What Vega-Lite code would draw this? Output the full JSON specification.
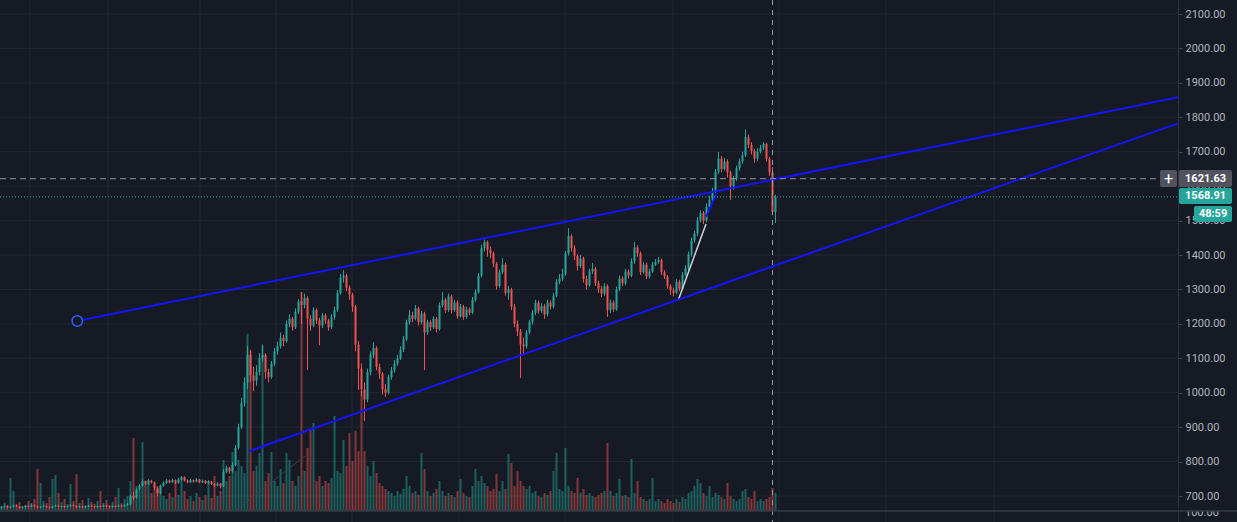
{
"$schema": "https://vega.github.io/schema/vega-lite/v6.json",
"width": 1237, "height": 522,
"autosize": {"type": "none"},
"padding": 0,
"background": "#161a25",
"config": {"view": {"stroke": null}, "text": {"font": "Roboto"}, "scale": {"continuousPadding": 0}},
"datasets": {
"vgrid": [{"t":9.5},{"t":35.5},{"t":66.17},{"t":91.5},{"t":116.83},{"t":152.5},{"t":187.83},{"t":223.83},{"t":259.17},{"t":294.83},{"t":330.83}],
"hgrid": [{"p":700},{"p":800},{"p":900},{"p":1000},{"p":1100},{"p":1200},{"p":1300},{"p":1400},{"p":1500},{"p":1600},{"p":1700},{"p":1800},{"p":1900},{"p":2000},{"p":2100}],
"lines": [{"k":"a","t":25.27,"p":1208.3},{"k":"a","t":392.17,"p":1858},{"k":"b","t":82.6,"p":830.7},{"k":"b","t":392.17,"p":1782.5},{"k":"c","t":78.17,"p":659.3},{"k":"c","t":101.17,"p":816.2},{"k":"d","t":225.6,"p":1269.3},{"k":"d","t":234.83,"p":1490},{"k":"e","t":234.83,"p":1511},{"k":"e","t":238.4,"p":1579}],
"info": [{"cross_t":257,"cross_p":1621.63,"last":1568.91,"timer":"48:59","lower":"100.00"}],
"candles": [
{"t":0,"o":666,"h":671,"l":663,"c":668,"v":10},
{"t":1,"o":668,"h":673,"l":666,"c":670,"v":16},
{"t":2,"o":670,"h":672,"l":664,"c":667,"v":12},
{"t":3,"o":667,"h":672,"l":665,"c":669,"v":66},
{"t":4,"o":669,"h":675,"l":667,"c":672,"v":40},
{"t":5,"o":672,"h":674,"l":668,"c":670,"v":14},
{"t":6,"o":670,"h":671,"l":663,"c":666,"v":18},
{"t":7,"o":666,"h":670,"l":664,"c":668,"v":10},
{"t":8,"o":668,"h":674,"l":666,"c":671,"v":12},
{"t":9,"o":671,"h":673,"l":667,"c":669,"v":20},
{"t":10,"o":669,"h":676,"l":668,"c":673,"v":16},
{"t":11,"o":673,"h":675,"l":668,"c":670,"v":24},
{"t":12,"o":670,"h":672,"l":664,"c":667,"v":84},
{"t":13,"o":667,"h":671,"l":665,"c":669,"v":56},
{"t":14,"o":669,"h":674,"l":667,"c":671,"v":20},
{"t":15,"o":671,"h":672,"l":666,"c":668,"v":16},
{"t":16,"o":668,"h":670,"l":663,"c":666,"v":28},
{"t":17,"o":666,"h":672,"l":664,"c":670,"v":64},
{"t":18,"o":670,"h":675,"l":668,"c":672,"v":72},
{"t":19,"o":672,"h":674,"l":667,"c":669,"v":36},
{"t":20,"o":669,"h":673,"l":667,"c":671,"v":18},
{"t":21,"o":671,"h":672,"l":666,"c":668,"v":24},
{"t":22,"o":668,"h":672,"l":666,"c":670,"v":14},
{"t":23,"o":670,"h":676,"l":669,"c":673,"v":54},
{"t":24,"o":673,"h":675,"l":669,"c":671,"v":20},
{"t":25,"o":671,"h":673,"l":665,"c":668,"v":74},
{"t":26,"o":668,"h":672,"l":666,"c":670,"v":16},
{"t":27,"o":670,"h":671,"l":665,"c":667,"v":22},
{"t":28,"o":667,"h":671,"l":665,"c":669,"v":12},
{"t":29,"o":669,"h":674,"l":668,"c":672,"v":26},
{"t":30,"o":672,"h":674,"l":668,"c":670,"v":18},
{"t":31,"o":670,"h":671,"l":666,"c":668,"v":14},
{"t":32,"o":668,"h":673,"l":666,"c":671,"v":20},
{"t":33,"o":671,"h":673,"l":667,"c":669,"v":40},
{"t":34,"o":669,"h":675,"l":668,"c":672,"v":16},
{"t":35,"o":672,"h":674,"l":668,"c":670,"v":22},
{"t":36,"o":670,"h":671,"l":666,"c":668,"v":12},
{"t":37,"o":668,"h":673,"l":667,"c":671,"v":18},
{"t":38,"o":671,"h":672,"l":667,"c":669,"v":28},
{"t":39,"o":669,"h":675,"l":668,"c":672,"v":46},
{"t":40,"o":672,"h":674,"l":668,"c":670,"v":16},
{"t":41,"o":670,"h":676,"l":669,"c":673,"v":24},
{"t":42,"o":673,"h":680,"l":671,"c":676,"v":30},
{"t":43,"o":676,"h":704,"l":674,"c":700,"v":60},
{"t":44,"o":700,"h":712,"l":688,"c":694,"v":146},
{"t":45,"o":694,"h":722,"l":692,"c":718,"v":50},
{"t":46,"o":718,"h":735,"l":715,"c":730,"v":40},
{"t":47,"o":730,"h":748,"l":727,"c":742,"v":138},
{"t":48,"o":742,"h":745,"l":732,"c":736,"v":60},
{"t":49,"o":736,"h":749,"l":733,"c":744,"v":62},
{"t":50,"o":744,"h":747,"l":736,"c":740,"v":36},
{"t":51,"o":740,"h":742,"l":718,"c":722,"v":44},
{"t":52,"o":722,"h":725,"l":700,"c":708,"v":50},
{"t":53,"o":708,"h":733,"l":705,"c":730,"v":40},
{"t":54,"o":730,"h":742,"l":727,"c":738,"v":30},
{"t":55,"o":738,"h":749,"l":735,"c":745,"v":24},
{"t":56,"o":745,"h":748,"l":737,"c":740,"v":36},
{"t":57,"o":740,"h":750,"l":738,"c":746,"v":28},
{"t":58,"o":746,"h":748,"l":735,"c":738,"v":56},
{"t":59,"o":738,"h":752,"l":736,"c":748,"v":32},
{"t":60,"o":748,"h":758,"l":745,"c":755,"v":64},
{"t":61,"o":755,"h":757,"l":742,"c":745,"v":40},
{"t":62,"o":745,"h":748,"l":737,"c":740,"v":24},
{"t":63,"o":740,"h":750,"l":738,"c":746,"v":30},
{"t":64,"o":746,"h":748,"l":739,"c":742,"v":20},
{"t":65,"o":742,"h":752,"l":740,"c":748,"v":36},
{"t":66,"o":748,"h":750,"l":737,"c":740,"v":28},
{"t":67,"o":740,"h":748,"l":738,"c":744,"v":22},
{"t":68,"o":744,"h":746,"l":735,"c":738,"v":32},
{"t":69,"o":738,"h":746,"l":735,"c":742,"v":60},
{"t":70,"o":742,"h":744,"l":732,"c":735,"v":26},
{"t":71,"o":735,"h":738,"l":726,"c":730,"v":70},
{"t":72,"o":730,"h":740,"l":728,"c":736,"v":30},
{"t":73,"o":736,"h":738,"l":722,"c":728,"v":40},
{"t":74,"o":728,"h":778,"l":726,"c":770,"v":102},
{"t":75,"o":770,"h":788,"l":766,"c":782,"v":60},
{"t":76,"o":782,"h":785,"l":765,"c":772,"v":70},
{"t":77,"o":772,"h":798,"l":768,"c":790,"v":118},
{"t":78,"o":790,"h":848,"l":786,"c":840,"v":80},
{"t":79,"o":840,"h":910,"l":835,"c":900,"v":102},
{"t":80,"o":900,"h":985,"l":895,"c":970,"v":90},
{"t":81,"o":970,"h":1045,"l":960,"c":1030,"v":76},
{"t":82,"o":1030,"h":1135,"l":1010,"c":1110,"v":354},
{"t":83,"o":1110,"h":1125,"l":1030,"c":1050,"v":320},
{"t":84,"o":1050,"h":1075,"l":1005,"c":1035,"v":80},
{"t":85,"o":1035,"h":1080,"l":1020,"c":1060,"v":90},
{"t":86,"o":1060,"h":1115,"l":1050,"c":1100,"v":116},
{"t":87,"o":1100,"h":1140,"l":1090,"c":1110,"v":330},
{"t":88,"o":1110,"h":1115,"l":1040,"c":1060,"v":60},
{"t":89,"o":1060,"h":1070,"l":1030,"c":1045,"v":76},
{"t":90,"o":1045,"h":1092,"l":1040,"c":1085,"v":118},
{"t":91,"o":1085,"h":1130,"l":1078,"c":1120,"v":60},
{"t":92,"o":1120,"h":1148,"l":1110,"c":1135,"v":50},
{"t":93,"o":1135,"h":1175,"l":1128,"c":1160,"v":84},
{"t":94,"o":1160,"h":1168,"l":1135,"c":1150,"v":56},
{"t":95,"o":1150,"h":1210,"l":1145,"c":1200,"v":116},
{"t":96,"o":1200,"h":1228,"l":1190,"c":1215,"v":102},
{"t":97,"o":1215,"h":1220,"l":1180,"c":1190,"v":60},
{"t":98,"o":1190,"h":1245,"l":1185,"c":1235,"v":50},
{"t":99,"o":1235,"h":1272,"l":1228,"c":1265,"v":70},
{"t":100,"o":1265,"h":1292,"l":1200,"c":1255,"v":438},
{"t":101,"o":1255,"h":1288,"l":1245,"c":1275,"v":80},
{"t":102,"o":1275,"h":1280,"l":1066,"c":1215,"v":126},
{"t":103,"o":1215,"h":1225,"l":1180,"c":1195,"v":162},
{"t":104,"o":1195,"h":1248,"l":1190,"c":1240,"v":176},
{"t":105,"o":1240,"h":1245,"l":1200,"c":1210,"v":60},
{"t":106,"o":1210,"h":1218,"l":1138,"c":1195,"v":70},
{"t":107,"o":1195,"h":1232,"l":1188,"c":1225,"v":50},
{"t":108,"o":1225,"h":1230,"l":1200,"c":1210,"v":60},
{"t":109,"o":1210,"h":1215,"l":1180,"c":1190,"v":56},
{"t":110,"o":1190,"h":1228,"l":1185,"c":1220,"v":66},
{"t":111,"o":1220,"h":1250,"l":1212,"c":1240,"v":190},
{"t":112,"o":1240,"h":1298,"l":1235,"c":1290,"v":80},
{"t":113,"o":1290,"h":1345,"l":1285,"c":1335,"v":76},
{"t":114,"o":1335,"h":1356,"l":1320,"c":1340,"v":142},
{"t":115,"o":1340,"h":1345,"l":1295,"c":1305,"v":90},
{"t":116,"o":1305,"h":1312,"l":1270,"c":1285,"v":156},
{"t":117,"o":1285,"h":1290,"l":1235,"c":1250,"v":100},
{"t":118,"o":1250,"h":1255,"l":1120,"c":1140,"v":160},
{"t":119,"o":1140,"h":1150,"l":1008,"c":1070,"v":120},
{"t":120,"o":1070,"h":1085,"l":990,"c":1010,"v":240},
{"t":121,"o":1010,"h":1030,"l":918,"c":980,"v":120},
{"t":122,"o":980,"h":1070,"l":972,"c":1060,"v":90},
{"t":123,"o":1060,"h":1120,"l":1050,"c":1110,"v":70},
{"t":124,"o":1110,"h":1147,"l":1100,"c":1130,"v":100},
{"t":125,"o":1130,"h":1135,"l":1065,"c":1075,"v":76},
{"t":126,"o":1075,"h":1085,"l":1040,"c":1055,"v":56},
{"t":127,"o":1055,"h":1060,"l":995,"c":1010,"v":50},
{"t":128,"o":1010,"h":1025,"l":988,"c":1000,"v":44},
{"t":129,"o":1000,"h":1052,"l":995,"c":1045,"v":40},
{"t":130,"o":1045,"h":1075,"l":1038,"c":1065,"v":36},
{"t":131,"o":1065,"h":1095,"l":1058,"c":1085,"v":30},
{"t":132,"o":1085,"h":1110,"l":1078,"c":1100,"v":40},
{"t":133,"o":1100,"h":1135,"l":1095,"c":1125,"v":34},
{"t":134,"o":1125,"h":1165,"l":1118,"c":1155,"v":44},
{"t":135,"o":1155,"h":1212,"l":1150,"c":1205,"v":70},
{"t":136,"o":1205,"h":1240,"l":1198,"c":1225,"v":50},
{"t":137,"o":1225,"h":1235,"l":1205,"c":1215,"v":36},
{"t":138,"o":1215,"h":1255,"l":1210,"c":1245,"v":40},
{"t":139,"o":1245,"h":1250,"l":1195,"c":1205,"v":32},
{"t":140,"o":1205,"h":1238,"l":1198,"c":1230,"v":116},
{"t":141,"o":1230,"h":1235,"l":1066,"c":1175,"v":84},
{"t":142,"o":1175,"h":1212,"l":1168,"c":1205,"v":40},
{"t":143,"o":1205,"h":1210,"l":1180,"c":1190,"v":30},
{"t":144,"o":1190,"h":1222,"l":1185,"c":1215,"v":36},
{"t":145,"o":1215,"h":1220,"l":1175,"c":1185,"v":44},
{"t":146,"o":1185,"h":1262,"l":1180,"c":1255,"v":60},
{"t":147,"o":1255,"h":1292,"l":1248,"c":1270,"v":40},
{"t":148,"o":1270,"h":1275,"l":1232,"c":1240,"v":30},
{"t":149,"o":1240,"h":1288,"l":1235,"c":1280,"v":36},
{"t":150,"o":1280,"h":1285,"l":1230,"c":1240,"v":32},
{"t":151,"o":1240,"h":1270,"l":1235,"c":1262,"v":28},
{"t":152,"o":1262,"h":1268,"l":1215,"c":1222,"v":40},
{"t":153,"o":1222,"h":1258,"l":1218,"c":1250,"v":64},
{"t":154,"o":1250,"h":1255,"l":1212,"c":1220,"v":36},
{"t":155,"o":1220,"h":1250,"l":1215,"c":1242,"v":30},
{"t":156,"o":1242,"h":1248,"l":1225,"c":1232,"v":28},
{"t":157,"o":1232,"h":1278,"l":1228,"c":1270,"v":50},
{"t":158,"o":1270,"h":1300,"l":1265,"c":1292,"v":84},
{"t":159,"o":1292,"h":1348,"l":1288,"c":1340,"v":60},
{"t":160,"o":1340,"h":1430,"l":1335,"c":1420,"v":70},
{"t":161,"o":1420,"h":1445,"l":1410,"c":1438,"v":56},
{"t":162,"o":1438,"h":1442,"l":1395,"c":1415,"v":50},
{"t":163,"o":1415,"h":1425,"l":1390,"c":1405,"v":40},
{"t":164,"o":1405,"h":1410,"l":1365,"c":1375,"v":44},
{"t":165,"o":1375,"h":1380,"l":1300,"c":1310,"v":74},
{"t":166,"o":1310,"h":1358,"l":1305,"c":1350,"v":40},
{"t":167,"o":1350,"h":1391,"l":1345,"c":1372,"v":60},
{"t":168,"o":1372,"h":1378,"l":1282,"c":1290,"v":44},
{"t":169,"o":1290,"h":1310,"l":1270,"c":1300,"v":114},
{"t":170,"o":1300,"h":1305,"l":1240,"c":1250,"v":96},
{"t":171,"o":1250,"h":1258,"l":1190,"c":1200,"v":50},
{"t":172,"o":1200,"h":1210,"l":1165,"c":1178,"v":80},
{"t":173,"o":1178,"h":1185,"l":1043,"c":1140,"v":60},
{"t":174,"o":1140,"h":1160,"l":1110,"c":1135,"v":50},
{"t":175,"o":1135,"h":1182,"l":1128,"c":1175,"v":44},
{"t":176,"o":1175,"h":1212,"l":1170,"c":1205,"v":50},
{"t":177,"o":1205,"h":1240,"l":1198,"c":1232,"v":36},
{"t":178,"o":1232,"h":1270,"l":1225,"c":1262,"v":40},
{"t":179,"o":1262,"h":1268,"l":1230,"c":1238,"v":30},
{"t":180,"o":1238,"h":1260,"l":1232,"c":1252,"v":28},
{"t":181,"o":1252,"h":1258,"l":1215,"c":1228,"v":36},
{"t":182,"o":1228,"h":1270,"l":1222,"c":1262,"v":32},
{"t":183,"o":1262,"h":1268,"l":1242,"c":1250,"v":40},
{"t":184,"o":1250,"h":1290,"l":1245,"c":1282,"v":80},
{"t":185,"o":1282,"h":1330,"l":1278,"c":1322,"v":116},
{"t":186,"o":1322,"h":1345,"l":1315,"c":1332,"v":44},
{"t":187,"o":1332,"h":1360,"l":1325,"c":1345,"v":40},
{"t":188,"o":1345,"h":1412,"l":1340,"c":1405,"v":126},
{"t":189,"o":1405,"h":1478,"l":1398,"c":1455,"v":50},
{"t":190,"o":1455,"h":1460,"l":1410,"c":1420,"v":40},
{"t":191,"o":1420,"h":1428,"l":1385,"c":1398,"v":36},
{"t":192,"o":1398,"h":1402,"l":1355,"c":1368,"v":66},
{"t":193,"o":1368,"h":1400,"l":1362,"c":1390,"v":36},
{"t":194,"o":1390,"h":1395,"l":1320,"c":1330,"v":44},
{"t":195,"o":1330,"h":1340,"l":1300,"c":1312,"v":32},
{"t":196,"o":1312,"h":1360,"l":1308,"c":1352,"v":36},
{"t":197,"o":1352,"h":1377,"l":1345,"c":1360,"v":30},
{"t":198,"o":1360,"h":1365,"l":1310,"c":1318,"v":28},
{"t":199,"o":1318,"h":1325,"l":1290,"c":1302,"v":32},
{"t":200,"o":1302,"h":1310,"l":1278,"c":1288,"v":36},
{"t":201,"o":1288,"h":1318,"l":1282,"c":1310,"v":40},
{"t":202,"o":1310,"h":1315,"l":1220,"c":1240,"v":136},
{"t":203,"o":1240,"h":1270,"l":1232,"c":1262,"v":40},
{"t":204,"o":1262,"h":1268,"l":1235,"c":1242,"v":30},
{"t":205,"o":1242,"h":1308,"l":1238,"c":1300,"v":36},
{"t":206,"o":1300,"h":1340,"l":1295,"c":1332,"v":64},
{"t":207,"o":1332,"h":1338,"l":1310,"c":1318,"v":30},
{"t":208,"o":1318,"h":1360,"l":1312,"c":1352,"v":32},
{"t":209,"o":1352,"h":1358,"l":1332,"c":1340,"v":28},
{"t":210,"o":1340,"h":1390,"l":1335,"c":1382,"v":104},
{"t":211,"o":1382,"h":1438,"l":1375,"c":1422,"v":36},
{"t":212,"o":1422,"h":1428,"l":1395,"c":1405,"v":60},
{"t":213,"o":1405,"h":1410,"l":1342,"c":1350,"v":28},
{"t":214,"o":1350,"h":1380,"l":1345,"c":1372,"v":24},
{"t":215,"o":1372,"h":1378,"l":1330,"c":1338,"v":20},
{"t":216,"o":1338,"h":1360,"l":1332,"c":1352,"v":24},
{"t":217,"o":1352,"h":1380,"l":1348,"c":1372,"v":66},
{"t":218,"o":1372,"h":1388,"l":1368,"c":1380,"v":20},
{"t":219,"o":1380,"h":1394,"l":1375,"c":1386,"v":24},
{"t":220,"o":1386,"h":1390,"l":1342,"c":1350,"v":20},
{"t":221,"o":1350,"h":1356,"l":1330,"c":1338,"v":16},
{"t":222,"o":1338,"h":1342,"l":1302,"c":1310,"v":24},
{"t":223,"o":1310,"h":1315,"l":1284,"c":1298,"v":20},
{"t":224,"o":1298,"h":1305,"l":1280,"c":1290,"v":16},
{"t":225,"o":1290,"h":1330,"l":1286,"c":1322,"v":24},
{"t":226,"o":1322,"h":1328,"l":1295,"c":1302,"v":18},
{"t":227,"o":1302,"h":1350,"l":1298,"c":1342,"v":28},
{"t":228,"o":1342,"h":1370,"l":1338,"c":1362,"v":24},
{"t":229,"o":1362,"h":1410,"l":1355,"c":1402,"v":36},
{"t":230,"o":1402,"h":1450,"l":1395,"c":1442,"v":40},
{"t":231,"o":1442,"h":1470,"l":1435,"c":1462,"v":50},
{"t":232,"o":1462,"h":1510,"l":1455,"c":1500,"v":64},
{"t":233,"o":1500,"h":1530,"l":1495,"c":1522,"v":56},
{"t":234,"o":1522,"h":1528,"l":1490,"c":1500,"v":36},
{"t":235,"o":1500,"h":1550,"l":1495,"c":1540,"v":30},
{"t":236,"o":1540,"h":1572,"l":1532,"c":1560,"v":50},
{"t":237,"o":1560,"h":1595,"l":1552,"c":1585,"v":28},
{"t":238,"o":1585,"h":1650,"l":1580,"c":1642,"v":36},
{"t":239,"o":1642,"h":1699,"l":1635,"c":1680,"v":32},
{"t":240,"o":1680,"h":1688,"l":1640,"c":1650,"v":28},
{"t":241,"o":1650,"h":1682,"l":1645,"c":1672,"v":24},
{"t":242,"o":1672,"h":1678,"l":1625,"c":1640,"v":56},
{"t":243,"o":1640,"h":1645,"l":1560,"c":1600,"v":30},
{"t":244,"o":1600,"h":1630,"l":1590,"c":1622,"v":24},
{"t":245,"o":1622,"h":1660,"l":1615,"c":1652,"v":20},
{"t":246,"o":1652,"h":1680,"l":1645,"c":1672,"v":24},
{"t":247,"o":1672,"h":1700,"l":1665,"c":1690,"v":40},
{"t":248,"o":1690,"h":1765,"l":1685,"c":1742,"v":44},
{"t":249,"o":1742,"h":1750,"l":1710,"c":1720,"v":28},
{"t":250,"o":1720,"h":1728,"l":1692,"c":1702,"v":24},
{"t":251,"o":1702,"h":1708,"l":1668,"c":1680,"v":40},
{"t":252,"o":1680,"h":1710,"l":1672,"c":1700,"v":20},
{"t":253,"o":1700,"h":1720,"l":1695,"c":1712,"v":24},
{"t":254,"o":1712,"h":1728,"l":1705,"c":1722,"v":20},
{"t":255,"o":1722,"h":1726,"l":1672,"c":1680,"v":24},
{"t":256,"o":1680,"h":1685,"l":1630,"c":1640,"v":28},
{"t":257,"o":1640,"h":1655,"l":1515,"c":1525,"v":46},
{"t":258,"o":1525,"h":1575,"l":1493,"c":1568.91,"v":36}
]
},
"resolve": {"scale": {"y": "independent"}, "axis": {"y": "independent"}},
"layer": [
 {"layer": [
  {"data": {"name": "vgrid"}, "mark": {"type": "rule", "color": "#232733", "strokeWidth": 1},
   "encoding": {"x": {"field": "t", "type": "quantitative", "scale": {"domain": [-0.5, 411.83], "nice": false, "zero": false, "padding": 0}, "axis": null}}},
  {"data": {"name": "hgrid"}, "mark": {"type": "rule", "color": "#232733", "strokeWidth": 1},
   "encoding": {
    "y": {"field": "p", "type": "quantitative", "scale": {"domain": [624.5, 2140.7], "nice": false, "zero": false, "padding": 0},
      "axis": {"orient": "right", "offset": -59, "values": [700,800,900,1000,1100,1200,1300,1400,1500,1600,1700,1800,1900,2000,2100], "format": ".2f", "grid": false, "title": null, "domainColor": "#2f333e", "tickColor": "#434651", "tickSize": 4, "labelPadding": 3, "labelColor": "#b2b5be", "labelFont": "Roboto", "labelFontSize": 11, "labelAlign": "left", "labelFlush": false, "labelOverlap": false}},
    "x": {"datum": -0.5}, "x2": {"datum": 392.17}}}
 ]},
 {"data": {"name": "candles"}, "mark": {"type": "bar", "width": 2},
  "encoding": {
   "x": {"field": "t", "type": "quantitative"},
   "y": {"field": "v", "type": "quantitative", "scale": {"domain": [-22, 1022], "nice": false, "zero": false, "padding": 0}, "axis": null, "stack": null},
   "y2": {"datum": 0},
   "color": {"condition": {"test": "datum.c >= datum.o", "value": "#26a69a"}, "value": "#ef5350"},
   "opacity": {"value": 0.5}}},
 {"layer": [
  {"data": {"name": "candles"}, "mark": {"type": "rule", "strokeWidth": 1},
   "encoding": {
    "x": {"field": "t", "type": "quantitative"},
    "y": {"field": "l", "type": "quantitative", "scale": {"domain": [624.5, 2140.7], "nice": false, "zero": false, "padding": 0}, "axis": null},
    "y2": {"field": "h"},
    "color": {"condition": {"test": "datum.c >= datum.o", "value": "#26a69a"}, "value": "#ef5350"}}},
  {"data": {"name": "candles"}, "mark": {"type": "bar", "width": 2},
   "encoding": {
    "x": {"field": "t", "type": "quantitative"},
    "y": {"field": "o", "type": "quantitative", "axis": null},
    "y2": {"field": "c"},
    "color": {"condition": {"test": "datum.c >= datum.o", "value": "#26a69a"}, "value": "#ef5350"}}},
  {"data": {"name": "lines"}, "transform": [{"filter": "datum.k == 'c'"}], "mark": {"type": "line", "color": "#3b3f4b", "strokeWidth": 1},
   "encoding": {"x": {"field": "t", "type": "quantitative"}, "y": {"field": "p", "type": "quantitative", "axis": null}, "detail": {"field": "k"}}},
  {"data": {"name": "lines"}, "transform": [{"filter": "datum.k == 'd'"}], "mark": {"type": "line", "color": "#d1d4dc", "strokeWidth": 1.5},
   "encoding": {"x": {"field": "t", "type": "quantitative"}, "y": {"field": "p", "type": "quantitative", "axis": null}, "detail": {"field": "k"}}},
  {"data": {"name": "lines"}, "transform": [{"filter": "datum.k == 'a' || datum.k == 'b' || datum.k == 'e'"}], "mark": {"type": "line", "color": "#1414ff", "strokeWidth": 2},
   "encoding": {"x": {"field": "t", "type": "quantitative"}, "y": {"field": "p", "type": "quantitative", "axis": null}, "detail": {"field": "k"}}},
  {"data": {"name": "lines"}, "transform": [{"filter": "datum.k == 'a' && datum.t < 100"}], "mark": {"type": "point", "shape": "circle", "size": 110, "filled": true, "fill": "#161a25", "stroke": "#2962ff", "strokeWidth": 1.5, "opacity": 1},
   "encoding": {"x": {"field": "t", "type": "quantitative"}, "y": {"field": "p", "type": "quantitative", "axis": null}}},
  {"data": {"name": "info"}, "mark": {"type": "rule", "color": "#9598a1", "strokeWidth": 1, "strokeDash": [5, 5]},
   "encoding": {"x": {"field": "cross_t", "type": "quantitative"}}},
  {"data": {"name": "info"}, "mark": {"type": "rule", "color": "#9598a1", "strokeWidth": 1, "strokeDash": [6, 4]},
   "encoding": {"y": {"field": "cross_p", "type": "quantitative", "axis": null}, "x": {"datum": -0.5}, "x2": {"datum": 392.17}}},
  {"data": {"name": "info"}, "mark": {"type": "rule", "color": "#26a69a", "strokeWidth": 1, "strokeDash": [1, 2]},
   "encoding": {"y": {"field": "last", "type": "quantitative", "axis": null}, "x": {"datum": -0.5}, "x2": {"datum": 392.17}}},
  {"data": {"name": "info"}, "mark": {"type": "rect", "color": "#50535e", "cornerRadius": 2},
   "encoding": {"x": {"datum": 386.17}, "x2": {"datum": 391.83}, "y": {"datum": 1597.5}, "y2": {"datum": 1646.9}}},
  {"data": {"name": "info"}, "mark": {"type": "rect", "color": "#50535e", "cornerRadius": 2},
   "encoding": {"x": {"datum": 392.5}, "x2": {"datum": 410.17}, "y": {"datum": 1597.5}, "y2": {"datum": 1646.9}}},
  {"data": {"name": "info"}, "mark": {"type": "rect", "color": "#26a69a", "cornerRadius": 2},
   "encoding": {"x": {"datum": 392.5}, "x2": {"datum": 410.17}, "y": {"datum": 1548.1}, "y2": {"datum": 1594.6}}},
  {"data": {"name": "info"}, "mark": {"type": "rect", "color": "#26a69a", "cornerRadius": 2},
   "encoding": {"x": {"datum": 397.5}, "x2": {"datum": 410.17}, "y": {"datum": 1495.8}, "y2": {"datum": 1542.3}}},
  {"data": {"name": "info"}, "mark": {"type": "text", "text": "+", "color": "#ffffff", "fontSize": 16, "align": "center", "baseline": "middle"},
   "encoding": {"x": {"datum": 389}, "y": {"datum": 1622.2}}},
  {"data": {"name": "info"}, "mark": {"type": "text", "color": "#ffffff", "fontSize": 11, "fontWeight": "bold", "align": "left", "baseline": "middle"},
   "encoding": {"x": {"datum": 394.5}, "y": {"datum": 1622.2}, "text": {"field": "cross_p", "type": "quantitative", "format": ".2f"}}},
  {"data": {"name": "info"}, "mark": {"type": "text", "color": "#ffffff", "fontSize": 11, "fontWeight": "bold", "align": "left", "baseline": "middle"},
   "encoding": {"x": {"datum": 394.5}, "y": {"datum": 1571.3}, "text": {"field": "last", "type": "quantitative", "format": ".2f"}}},
  {"data": {"name": "info"}, "mark": {"type": "text", "color": "#ffffff", "fontSize": 11, "fontWeight": "bold", "align": "center", "baseline": "middle"},
   "encoding": {"x": {"datum": 403.85}, "y": {"datum": 1519.1}, "text": {"field": "timer"}}},
  {"data": {"name": "info"}, "mark": {"type": "text", "color": "#b2b5be", "fontSize": 11, "align": "left", "baseline": "middle"},
   "encoding": {"x": {"datum": 394.5}, "y": {"datum": 650.6}, "text": {"field": "lower"}}},
  {"data": {"name": "info"}, "mark": {"type": "rect", "color": "#161a25"},
   "encoding": {"x": {"datum": 392.4}, "x2": {"datum": 411.83}, "y": {"datum": 656.4}, "y2": {"datum": 679.7}}},
  {"data": {"name": "info"}, "mark": {"type": "rule", "color": "#363a45", "strokeWidth": 1.5},
   "encoding": {"y": {"datum": 656.4}, "x": {"datum": -0.5}, "x2": {"datum": 411.83}}}
 ]}
]
}
